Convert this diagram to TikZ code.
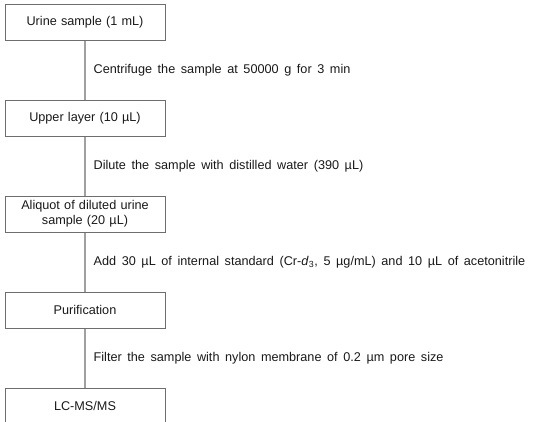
\documentclass[tikz,border=0pt]{standalone}
\usepackage{fontspec}
\setmainfont{Liberation Sans}
\usetikzlibrary{positioning}
\definecolor{boxgray}{RGB}{110,110,110}
\definecolor{linegray}{RGB}{160,160,160}
\definecolor{txtgray}{RGB}{25,25,25}
\newcommand{\flowfont}{\fontsize{9.5}{11}\selectfont\spaceskip=4.2pt\relax}
\tikzset{
  stepbox/.style={rectangle, draw=boxgray, line width=0.75pt, text width=112pt, align=center,
                  minimum width=120pt, minimum height=27pt, inner sep=2pt, text=txtgray,
                  font=\flowfont},
  link/.style={draw=linegray, line width=1pt},
  note/.style={anchor=west, inner sep=0pt, xshift=6pt, text=txtgray, font=\flowfont},
}

\begin{document}
\begin{tikzpicture}[x=0.75pt, y=-0.75pt, node distance=44.25pt]
\useasboundingbox (0,0) rectangle (533,422);
% steps
\node[stepbox] (urine) at (85,22) {Urine sample (1 mL)};
\node[stepbox, below=of urine] (upper) {Upper layer (10 µL)};
\node[stepbox, below=of upper] (aliquot) {Aliquot of diluted urine\\ sample (20 µL)};
\node[stepbox, below=of aliquot] (purif) {Purification};
\node[stepbox, below=of purif] (lcms) {LC-MS/MS};
% connectors and treatment notes
\draw[link] (urine) -- node[note] (n1) {Centrifuge the sample at 50000 g for 3 min} (upper);
\draw[link] (upper) -- node[note] (n2) {Dilute the sample with distilled water (390 µL)} (aliquot);
\draw[link] (aliquot) -- node[note] (n3) {Add 30 µL of internal standard (Cr-\textit{d}\textsubscript{3}, 5 µg/mL) and 10 µL of acetonitrile} (purif);
\draw[link] (purif) -- node[note] (n4) {Filter the sample with nylon membrane of 0.2 µm pore size} (lcms);
\end{tikzpicture}
\end{document}
